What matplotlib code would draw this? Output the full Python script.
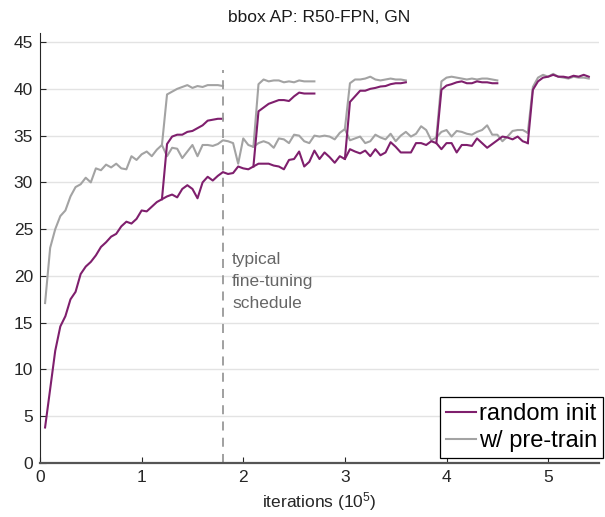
import numpy as np
import matplotlib
matplotlib.use("Agg")
import matplotlib.pyplot as plt

# evaluation every 5k iterations, x axis in units of 1e5
step = 0.05

random_main = [3.8, 7.9, 12.0, 14.6, 15.7, 17.5, 18.3, 20.2, 21.0, 21.5,
               22.2, 23.1, 23.6, 24.2, 24.5, 25.3, 25.8, 25.6, 26.1, 27.0,
               26.9, 27.4, 27.9, 28.2, 28.5, 28.7, 28.4, 29.3, 29.7, 29.3,
               28.3, 30.0, 30.6, 30.2, 30.7, 31.1, 30.9, 31.0, 31.7, 31.5,
               31.4, 31.7, 32.0, 32.0, 32.0, 31.8, 31.7, 31.4, 32.4, 32.5,
               33.3, 31.7, 32.2, 33.4, 32.5, 33.2, 32.7, 32.1, 32.8, 32.5,
               33.55, 33.3, 33.1, 33.4, 32.8, 33.55, 32.9, 33.2, 34.3, 33.8,
               33.2, 33.2, 33.2, 34.2, 34.2, 34.0, 34.4, 34.2, 33.55, 34.2,
               34.2, 33.2, 34.0, 34.0, 33.9, 34.7, 34.2, 33.7, 34.1, 34.5,
               34.9, 34.8, 34.6, 34.9, 34.4, 34.2]

pretrain_main = [17.1, 23.0, 25.0, 26.4, 27.0, 28.5, 29.5, 29.8, 30.5, 30.0,
                 31.5, 31.3, 31.9, 31.6, 32.0, 31.5, 31.4, 32.8, 32.4, 33.0,
                 33.3, 32.8, 33.5, 34.0, 32.8, 33.7, 33.6, 32.6, 33.3, 34.0,
                 32.8, 34.0, 34.0, 33.9, 34.1, 34.5, 34.4, 34.2, 32.0, 34.7,
                 34.0, 33.8, 34.2, 34.4, 34.2, 33.7, 34.7, 34.6, 34.2, 35.1,
                 35.0, 34.4, 34.2, 35.0, 34.9, 35.0, 34.9, 34.6, 35.3, 35.7,
                 34.5, 34.7, 34.9, 34.2, 34.4, 35.1, 34.8, 34.6, 35.2, 34.4,
                 35.0, 35.4, 34.9, 35.2, 36.0, 35.6, 34.5, 34.8, 35.4, 35.6,
                 34.9, 35.5, 35.4, 35.2, 35.1, 35.4, 35.6, 36.1, 35.1, 35.1,
                 34.4, 34.9, 35.5, 35.6, 35.6, 35.3]

# learning-rate drop branches (start iteration, values after start)
branch_starts = [1.2, 2.1, 3.0, 3.9, 4.8]

random_branches = [
    [34.1, 34.9, 35.1, 35.1, 35.4, 35.5, 35.8, 36.1, 36.6, 36.7, 36.8, 36.8],
    [37.6, 38.0, 38.4, 38.6, 38.8, 38.8, 38.7, 39.2, 39.6, 39.5, 39.5, 39.5],
    [38.6, 39.2, 39.8, 39.8, 40.0, 40.1, 40.25, 40.3, 40.5, 40.6, 40.6, 40.7],
    [39.9, 40.35, 40.5, 40.7, 40.8, 40.6, 40.6, 40.8, 40.7, 40.7, 40.6, 40.6],
    [39.9, 40.8, 41.2, 41.3, 41.5, 41.3, 41.3, 41.2, 41.4, 41.3, 41.5, 41.3],
]

pretrain_branches = [
    [39.4, 39.7, 40.0, 40.2, 40.4, 40.1, 40.3, 40.2, 40.4, 40.4, 40.4, 40.3],
    [40.5, 41.0, 40.8, 40.9, 40.9, 40.7, 40.8, 40.7, 40.9, 40.8, 40.8, 40.8],
    [40.6, 41.0, 41.0, 41.1, 41.3, 41.0, 40.9, 41.0, 41.1, 41.0, 41.0, 40.9],
    [40.8, 41.2, 41.3, 41.2, 41.1, 41.0, 41.1, 41.0, 41.1, 41.1, 41.0, 40.9],
    [40.2, 41.2, 41.5, 41.3, 41.6, 41.3, 41.2, 41.1, 41.3, 41.2, 41.2, 41.1],
]

finetune_end = 1.8

purple = '#7f1f6d'
gray = '#a3a3a3'

plt.rcParams['font.family'] = ['Liberation Sans', 'DejaVu Sans']


def plot_run(ax, main, branches, color, label):
    x = step * np.arange(1, len(main) + 1)
    line, = ax.plot(x, main, color=color, lw=1.5, label=label)
    for start, vals in zip(branch_starts, branches):
        i = int(round(start / step)) - 1
        xb = x[i] + step * np.arange(0, len(vals) + 1)
        yb = [main[i]] + list(vals)
        ax.plot(xb, yb, color=color, lw=1.5)
    return line


fig = plt.figure(figsize=(6.05, 5.17), dpi=100)
ax = fig.add_axes([0.0661, 0.1044, 0.9239, 0.8323])

h_pre = plot_run(ax, pretrain_main, pretrain_branches, gray, 'w/ pre-train')
h_rand = plot_run(ax, random_main, random_branches, purple, 'random init')

ax.plot([finetune_end, finetune_end], [0, 42], color='#999999', lw=1.3,
        ls=(0, (5, 4)))
ax.text(finetune_end + 0.09, 22.6, 'typical\nfine-tuning\nschedule',
        fontsize=12.5, color='#666666', va='top', ha='left', linespacing=1.62)

ax.set_xlim(0, 5.5)
ax.set_ylim(0, 46)
ax.set_xticks(range(0, 6))
ax.set_yticks(range(0, 50, 5))
ax.yaxis.grid(True, color='#e3e3e3', lw=1)
ax.set_axisbelow(True)
for s in ['top', 'right']:
    ax.spines[s].set_visible(False)
ax.spines['left'].set_color('#262626')
ax.spines['left'].set_linewidth(0.8)
ax.spines['bottom'].set_color('#555555')
ax.spines['bottom'].set_linewidth(1.6)
ax.tick_params(direction='in', length=4, width=0.8, color='#262626',
               labelsize=12.5, labelcolor='#262626', pad=5)

ax.set_title('bbox AP: R50-FPN, GN', fontsize=12.5, color='#1a1a1a', pad=8)
ax.set_xlabel('iterations ($\\mathregular{10^5}$)', fontsize=12.5,
              color='#262626', labelpad=4)

leg = ax.legend([h_rand, h_pre], ['random init', 'w/ pre-train'],
                loc='lower right', bbox_to_anchor=(1.008, 0.012),
                borderaxespad=0, fontsize=17, handlelength=1.25,
                handletextpad=0.15, borderpad=0.25, labelspacing=0.2,
                fancybox=False, framealpha=1)
leg.get_frame().set_edgecolor('black')
leg.get_frame().set_linewidth(0.9)

fig.savefig('out.png', dpi=100)
